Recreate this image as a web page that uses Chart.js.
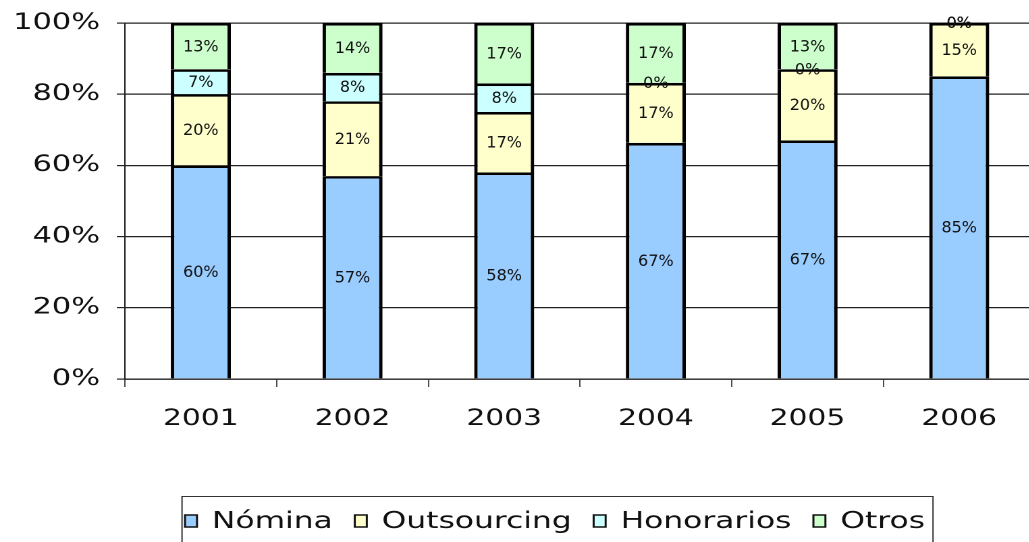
<!DOCTYPE html>
<html>
<head>
<meta charset="utf-8">
<script src="https://cdn.jsdelivr.net/npm/chart.js@4.4.1/dist/chart.umd.min.js"></script>
<style>
  html, body { margin: 0; padding: 0; background: #fff; }
  #wrap { width: 1029px; height: 542px; overflow: hidden; }
  /* the chart is drawn narrow and stretched sideways, like the wide Excel export */
  #chart { transform: scaleX(1.35); transform-origin: 0 0; }
</style>
</head>
<body>
<div id="wrap"><canvas id="chart" width="770" height="542"></canvas></div>
<script>
const S = 1.35; // horizontal stretch

const years = ['2001', '2002', '2003', '2004', '2005', '2006'];
const nomina = [60, 57, 58, 67, 67, 85];
const outsourcing = [20, 21, 17, 17, 20, 15];
const honorarios = [7, 8, 8, 0, 0, 0];
const otros = [13, 14, 17, 17, 13, 0];
const yTicks = [0, 20, 40, 60, 80, 100];

const series = [
  { label: 'Nómina', values: nomina, color: '#99CCFF' },
  { label: 'Outsourcing', values: outsourcing, color: '#FFFFCC' },
  { label: 'Honorarios', values: honorarios, color: '#CCFFFF' },
  { label: 'Otros', values: otros, color: '#CCFFCC' }
];

// 100% stacked: each year is scaled to its own total
const totals = years.map((y, i) => series.reduce((acc, s) => acc + s.values[i], 0));

const datasets = series.map(s => ({
  label: s.label,
  values: s.values,
  data: s.values.map((v, i) => v / totals[i] * 100),
  backgroundColor: s.color,
  borderColor: '#000',
  borderWidth: 2.6,
  borderSkipped: 'start',
  categoryPercentage: 1,
  barPercentage: 0.396
}));

// value labels in the middle of each segment, drawn unstretched
const segmentLabels = {
  id: 'segmentLabels',
  afterDatasetsDraw(chart) {
    const ctx = chart.ctx;
    ctx.save();
    ctx.font = '16px "DejaVu Sans"';
    ctx.fillStyle = '#111';
    ctx.textAlign = 'center';
    ctx.textBaseline = 'middle';
    chart.data.datasets.forEach((ds, di) => {
      chart.getDatasetMeta(di).data.forEach((bar, i) => {
        ctx.save();
        ctx.translate(bar.x, (bar.y + bar.base) / 2);
        ctx.scale(1 / S, 1);
        ctx.fillText(ds.values[i] + '%', 0, 1);
        ctx.restore();
      });
    });
    ctx.restore();
  }
};

// framed legend along the bottom
const boxLegend = {
  id: 'boxLegend',
  afterDraw(chart) {
    const ctx = chart.ctx;
    ctx.save();
    ctx.strokeStyle = '#333';
    ctx.lineWidth = 1;
    ctx.strokeRect(182 / S, 496.5, (933 - 182) / S, 60);

    ctx.font = '23.2px "DejaVu Sans"';
    ctx.textBaseline = 'middle';
    ctx.textAlign = 'left';
    let x = 185 / S;
    chart.data.datasets.forEach(ds => {
      ctx.fillStyle = ds.backgroundColor;
      ctx.fillRect(x, 515, 12 / S, 12);
      ctx.strokeStyle = '#111';
      ctx.lineWidth = 1.5;
      ctx.strokeRect(x, 515, 12 / S, 12);
      const tx = x + 27 / S;
      ctx.fillStyle = '#111';
      ctx.fillText(ds.label, tx, 522);
      x = tx + ctx.measureText(ds.label).width + 22 / S;
    });
    ctx.restore();
  }
};

new Chart(document.getElementById('chart'), {
  type: 'bar',
  data: { labels: years, datasets: datasets },
  options: {
    responsive: false,
    devicePixelRatio: 2,
    animation: false,
    layout: { padding: { top: 23, right: 3.3, bottom: 113, left: 0 } },
    plugins: {
      legend: { display: false },
      tooltip: { enabled: false }
    },
    scales: {
      x: {
        stacked: true,
        afterFit: scale => { scale.height = 50; },
        grid: {
          offset: true,
          drawOnChartArea: false,
          drawTicks: true,
          tickLength: 8,
          tickColor: '#222',
          tickWidth: 0.8
        },
        border: { display: true, color: '#222', width: 1.2 },
        ticks: {
          color: '#111',
          padding: 19,
          font: { family: 'DejaVu Sans', size: 22 }
        }
      },
      y: {
        stacked: true,
        min: 0,
        max: 100,
        afterFit: scale => {
          scale.width = 125 / S;
          scale.paddingTop = 0;
          scale.paddingBottom = 0;
        },
        afterBuildTicks: axis => { axis.ticks = yTicks.map(v => ({ value: v })); },
        grid: {
          color: '#222',
          lineWidth: 1.2,
          drawTicks: true,
          tickLength: 6
        },
        border: { display: true, color: '#222', width: 1 },
        ticks: {
          color: '#111',
          padding: 12.5,
          font: { family: 'DejaVu Sans', size: 22.5 },
          callback: v => v + '%'
        }
      }
    }
  },
  plugins: [segmentLabels, boxLegend]
});
</script>
</body>
</html>
